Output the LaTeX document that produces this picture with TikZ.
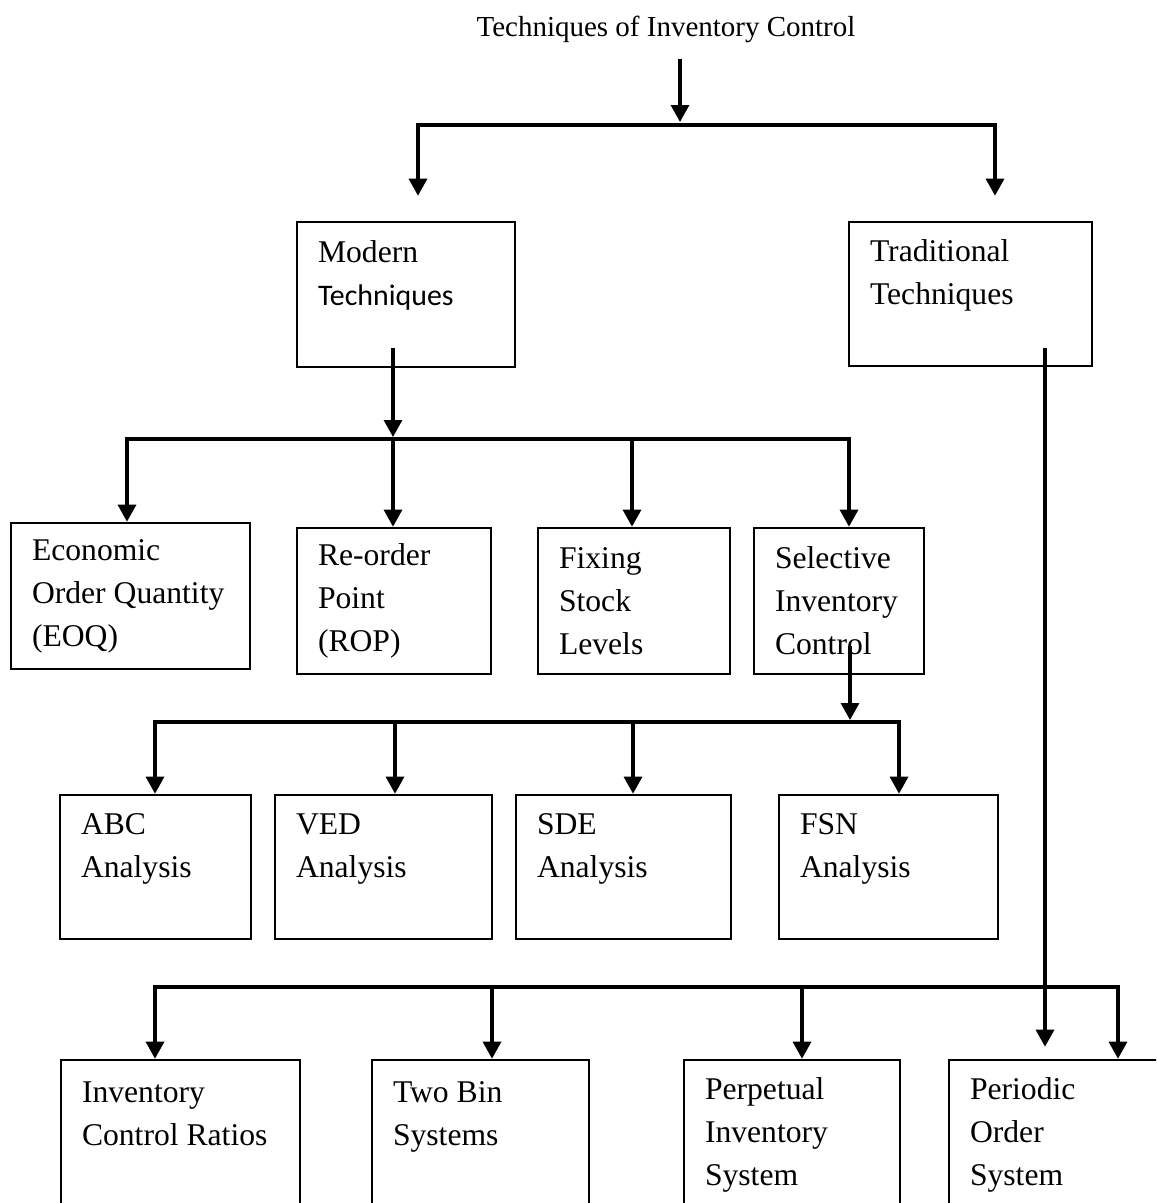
\documentclass[tikz,border=0pt]{standalone}
\usepackage{fontspec}
\setmainfont{Liberation Serif}
\newfontfamily\sansword{Carlito}
\usetikzlibrary{arrows.meta}
\begin{document}
\begin{tikzpicture}[x=0.02cm,y=-0.02cm,
  ln/.style={line width=1.8pt},
  bus/.style={ln,line cap=rect},
  arr/.style={ln,-{Triangle[width=0.36cm,length=0.34cm]}},
  box/.style={draw,line width=1.5pt,rectangle,align=flush left,
    inner xsep=0.42cm,inner ysep=0pt,
    font=\fontsize{18}{24.5}\selectfont},
]
\useasboundingbox (0,0) rectangle (1156,1203);
\clip (0,0) rectangle (1156,1203);

% title
\node[font=\fontsize{16.5}{20}\selectfont,inner sep=0pt,anchor=base] (title) at (666,37)
  {Techniques of Inventory Control};

% first level
\node[box,minimum width=4.36cm,minimum height=2.90cm,text width=3.52cm] (modern) at (406,294.5)
  {Modern\\{\sansword\fontsize{17}{24.5}\selectfont Techniques}\\~};
\node[box,minimum width=4.86cm,minimum height=2.88cm,text width=4.02cm] (trad) at (970.5,294)
  {Traditional\\Techniques\\~};

% modern techniques
\node[box,minimum width=4.78cm,minimum height=2.92cm,text width=3.94cm] (eoq) at (130.5,596)
  {Economic\\Order Quantity\\(EOQ)};
\node[box,minimum width=3.88cm,minimum height=2.92cm,text width=3.04cm] (rop) at (394,601)
  {Re-order\\Point\\(ROP)};
\node[box,minimum width=3.84cm,minimum height=2.92cm,text width=3.00cm] (fix) at (634,601)
  {Fixing\\Stock\\Levels};
\node[box,minimum width=3.40cm,minimum height=2.92cm,text width=2.56cm] (sel) at (839,601)
  {Selective\\Inventory\\Control};

% selective inventory control
\node[box,minimum width=3.82cm,minimum height=2.88cm,text width=2.98cm] (abc) at (155.5,867)
  {ABC\\Analysis\\~};
\node[box,minimum width=4.34cm,minimum height=2.88cm,text width=3.50cm] (ved) at (383.5,867)
  {VED\\Analysis\\~};
\node[box,minimum width=4.30cm,minimum height=2.88cm,text width=3.46cm] (sde) at (623.5,867)
  {SDE\\Analysis\\~};
\node[box,minimum width=4.38cm,minimum height=2.88cm,text width=3.54cm] (fsn) at (888.5,867)
  {FSN\\Analysis\\~};

% traditional techniques
\node[box,minimum width=4.78cm,minimum height=3.00cm,text width=3.94cm] (icr) at (180.5,1135)
  {Inventory\\Control Ratios\\~};
\node[box,minimum width=4.34cm,minimum height=3.00cm,text width=3.50cm] (twobin) at (480.5,1135)
  {Two Bin\\Systems\\~};
\node[box,minimum width=4.32cm,minimum height=3.00cm,text width=3.48cm] (perp) at (792,1135)
  {Perpetual\\Inventory\\System};
\node[box,minimum width=4.52cm,minimum height=3.00cm,text width=3.68cm] (peri) at (1062,1135)
  {Periodic\\Order\\System};

% junction points
\coordinate (j0) at (680,125);
\coordinate (jl) at (418,125);
\coordinate (jr) at (995,125);
\coordinate (k1) at (127,439);
\coordinate (k2) at (393,439);
\coordinate (k3) at (632,439);
\coordinate (k4) at (849,439);
\coordinate (m0) at (850,722);
\coordinate (m1) at (155,722);
\coordinate (m2) at (395,722);
\coordinate (m3) at (633,722);
\coordinate (m4) at (899,722);
\coordinate (tv) at (1045,987);
\coordinate (n1) at (155,987);
\coordinate (n2) at (492,987);
\coordinate (n3) at (802,987);
\coordinate (n4) at (1118,987);

% title to first level
\draw[arr] ([yshift=-0.3cm]title.south -| j0) -- ([yshift=0.06cm]j0);
\draw[bus] (jl) -- (jr);
\draw[arr] (jl) -- ([yshift=0.5cm]jl |- modern.north);
\draw[arr] (jr) -- ([yshift=0.5cm]jr |- trad.north);

% modern techniques branch
\draw[arr] ([yshift=0.4cm]modern.south -| k2) -- ([yshift=0.04cm]k2);
\draw[bus] (k1) -- (k4);
\draw[arr] (k1) -- (k1 |- eoq.north);
\draw[arr] (k2) -- (k2 |- rop.north);
\draw[arr] (k3) -- (k3 |- fix.north);
\draw[arr] (k4) -- (k4 |- sel.north);

% selective inventory control branch
\draw[arr] ([yshift=0.58cm]sel.south -| m0) -- ([yshift=0.04cm]m0);
\draw[bus] (m1) -- (m4);
\draw[arr] (m1) -- (m1 |- abc.north);
\draw[arr] (m2) -- (m2 |- ved.north);
\draw[arr] (m3) -- (m3 |- sde.north);
\draw[arr] (m4) -- (m4 |- fsn.north);

% traditional techniques branch
\draw[arr] ([yshift=0.38cm]trad.south -| tv) -- ([yshift=0.24cm]tv |- peri.north);
\draw[bus] (n1) -- (n4);
\draw[arr] (n1) -- (n1 |- icr.north);
\draw[arr] (n2) -- (n2 |- twobin.north);
\draw[arr] (n3) -- (n3 |- perp.north);
\draw[arr] (n4) -- (n4 |- peri.north);
\end{tikzpicture}
\end{document}
